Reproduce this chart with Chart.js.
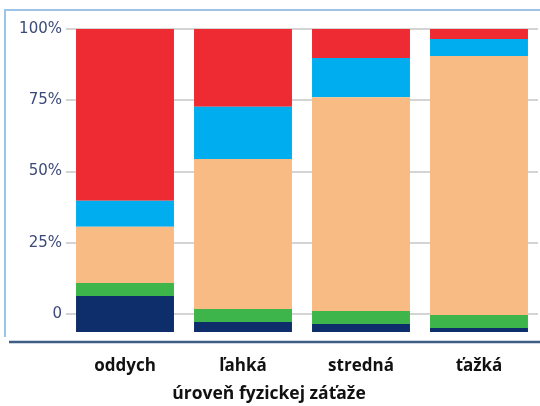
<!DOCTYPE html>
<html>
<head>
<meta charset="utf-8">
<script src="https://cdn.jsdelivr.net/npm/chart.js@4"></script>
<style>
  html, body { margin: 0; padding: 0; background: #fff; }
  #wrap { width: 540px; height: 406px; }
</style>
</head>
<body>
<div id="wrap"><canvas id="zataz"></canvas></div>
<script>
// kategorie a podiely (v %, kazdy stlpec spolu 100)
const categories = ['oddych', 'ľahká', 'stredná', 'ťažká'];
const navy  = [11.9, 3.3, 2.6, 1.3];
const green = [4.3, 4.3, 4.3, 4.3];
const peach = [18.5, 49.5, 70.6, 85.5];
const blue  = [8.6, 17.2, 12.9, 5.6];
const red   = [56.7, 25.7, 9.6, 3.3];
const tickValues = [0, 25, 50, 75, 100];
const tickLabels = ['0', '25%', '50%', '75%', '100%'];

// ramik okolo grafu
const frame = {
  id: 'frame',
  afterDraw(chart) {
    const c = chart.ctx;
    c.save();
    c.strokeStyle = '#9dc3e6';
    c.lineWidth = 2;
    c.beginPath();
    c.moveTo(5, 337);
    c.lineTo(5, 10);
    c.lineTo(540, 10);
    c.stroke();
    c.strokeStyle = '#3d5f86';
    c.lineWidth = 2.5;
    c.beginPath();
    c.moveTo(9, 342);
    c.lineTo(540, 342);
    c.stroke();
    c.restore();
  }
};

function ds(label, data, color) {
  return { label: label, data: data, backgroundColor: color, yAxisID: 'yb',
           barPercentage: 0.83, categoryPercentage: 1.0 };
}

var ctx = document.getElementById('zataz').getContext('2d');
var myChart = new Chart(ctx, {
  type: 'bar',
  data: {
    labels: categories,
    datasets: [
      ds('a', navy, '#0d2d6b'),
      ds('b', green, '#3db54a'),
      ds('c', peach, '#f9bb84'),
      ds('d', blue, '#00aeef'),
      ds('e', red, '#ee2a33')
    ]
  },
  options: {
    responsive: true,
    maintainAspectRatio: false,
    animation: false,
    layout: { padding: { top: 29, right: 2, left: 0, bottom: 0 } },
    plugins: {
      legend: { display: false },
      tooltip: { enabled: false },
      title: {
        display: true,
        position: 'bottom',
        text: 'úroveň fyzickej záťaže',
        color: '#111',
        padding: { top: 0, bottom: 1 },
        font: { family: 'Open Sans', size: 17.5, weight: 'bold' }
      }
    },
    scales: {
      x: {
        stacked: true,
        grid: { display: false, drawTicks: false },
        border: { display: false },
        ticks: { padding: 24, color: '#111', font: { family: 'Open Sans', size: 17, weight: 'bold' } },
        afterFit: function(s) { s.height = 52; }
      },
      y: {
        position: 'left',
        min: -6.3,
        max: 100,
        afterBuildTicks: function(s) { s.ticks = tickValues.map(v => ({ value: v })); },
        ticks: {
          padding: 4,
          color: '#3b4a78',
          font: { family: 'DejaVu Sans', size: 15 },
          callback: function(v) { return tickLabels[tickValues.indexOf(v)]; }
        },
        grid: { color: '#d4d4d4', lineWidth: 2, drawTicks: false },
        border: { display: false },
        afterFit: function(s) { s.width = 66; }
      },
      yb: {
        stacked: true,
        min: 0,
        max: 100,
        display: false
      }
    }
  },
  plugins: [frame]
});
</script>
</body>
</html>
